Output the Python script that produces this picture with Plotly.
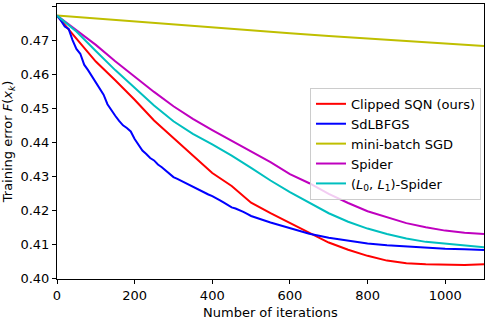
import plotly.graph_objects as go

# iterations and training error values
it_blue = [0, 10, 20, 30, 40, 50, 60, 70, 80, 90, 100, 110, 120, 130, 140, 150, 160, 170, 180, 190,
           200, 210, 220, 230, 240, 250, 260, 270, 280, 290, 300, 310, 320, 330, 340, 350, 360, 370,
           380, 390, 400, 410, 420, 430, 440, 450, 460, 470, 480, 490, 500,
           550, 600, 650, 700, 750, 800, 850, 900, 950, 1000, 1050, 1100]
sdlbfgs = [0.4772, 0.4758, 0.4740, 0.4733, 0.4700, 0.4674, 0.4660, 0.4628, 0.4612, 0.4594, 0.4577,
           0.4556, 0.4540, 0.4512, 0.4494, 0.4478, 0.4463, 0.4450, 0.4442, 0.4432, 0.4410, 0.4392,
           0.4376, 0.4366, 0.4354, 0.4347, 0.4335, 0.4327, 0.4317, 0.4306, 0.4298, 0.4293, 0.4287,
           0.4282, 0.4276, 0.4269, 0.4263, 0.4258, 0.4252, 0.4247, 0.4242, 0.4237, 0.4230, 0.4223,
           0.4215, 0.4209, 0.4206, 0.4202, 0.4196, 0.4190, 0.4184,
           0.4165, 0.4148, 0.4132, 0.4120, 0.4111, 0.4103, 0.4098, 0.4094, 0.4090, 0.4088, 0.4086, 0.4084]

it = [0, 50, 100, 150, 200, 250, 300, 350, 400, 450, 500, 550, 600, 650, 700, 750, 800, 850, 900,
      950, 1000, 1050, 1100]
clipped_sqn = [0.4772, 0.4705, 0.4637, 0.4582, 0.4525, 0.4464, 0.4412, 0.4360, 0.4310, 0.4272,
               0.4223, 0.4192, 0.4163, 0.4135, 0.4106, 0.4085, 0.4067, 0.4053, 0.4045, 0.4042,
               0.4040, 0.4040, 0.4042]
spider_l0l1 = [0.4772, 0.4725, 0.4668, 0.4612, 0.4560, 0.4508, 0.4462, 0.4425, 0.4394, 0.4361,
               0.4325, 0.4288, 0.4254, 0.4222, 0.4192, 0.4167, 0.4147, 0.4131, 0.4118, 0.4108,
               0.4102, 0.4097, 0.4092]
spider = [0.4772, 0.4730, 0.4686, 0.4638, 0.4592, 0.4548, 0.4506, 0.4469, 0.4436, 0.4405,
          0.4375, 0.4342, 0.4307, 0.4280, 0.4249, 0.4222, 0.4198, 0.4180, 0.4163, 0.4151,
          0.4141, 0.4135, 0.4131]

it_sgd = [0, 100, 200, 300, 400, 500, 600, 700, 800, 900, 1000, 1100]
sgd = [0.4772, 0.4763, 0.4754, 0.4745, 0.4737, 0.4728, 0.4720, 0.4712, 0.4705, 0.4697, 0.4690, 0.4683]

xticks = [0, 200, 400, 600, 800, 1000]
yticks = [0.40, 0.41, 0.42, 0.43, 0.44, 0.45, 0.46, 0.47, 0.48]

fig = go.Figure()
fig.add_trace(go.Scatter(x=it, y=clipped_sqn, mode='lines', name='Clipped SQN (ours)',
                         line=dict(color='#ff0000', width=2)))
fig.add_trace(go.Scatter(x=it_blue, y=sdlbfgs, mode='lines', name='SdLBFGS',
                         line=dict(color='#0000ff', width=2)))
fig.add_trace(go.Scatter(x=it_sgd, y=sgd, mode='lines', name='mini-batch SGD',
                         line=dict(color='#bfbf00', width=2)))
fig.add_trace(go.Scatter(x=it, y=spider, mode='lines', name='Spider',
                         line=dict(color='#bf00bf', width=2)))
fig.add_trace(go.Scatter(x=it, y=spider_l0l1, mode='lines',
                         name='(<i>L</i><sub>0</sub>, <i>L</i><sub>1</sub>)-Spider',
                         line=dict(color='#00bfbf', width=2)))

axis_style = dict(showline=True, mirror=True, linecolor='black', linewidth=1,
                  ticks='outside', ticklen=4, tickcolor='black', showgrid=False,
                  zeroline=False, automargin=False, tickfont=dict(size=13, color='black'))

fig.update_layout(
    width=486, height=320,
    margin=dict(l=57, r=2, t=4, b=41),
    paper_bgcolor='white', plot_bgcolor='white',
    font=dict(family='DejaVu Sans', size=13, color='black'),
    xaxis=dict(range=[0, 1100], tickvals=xticks, **axis_style),
    yaxis=dict(range=[0.3999, 0.4806], tickvals=yticks, tickformat='.2f', **axis_style),
    legend=dict(x=0.5925, y=0.695, xanchor='left', yanchor='top',
                bgcolor='rgba(255,255,255,0.8)', bordercolor='#cccccc', borderwidth=1,
                font=dict(size=13), tracegroupgap=0, itemwidth=30),
    showlegend=True,
    annotations=[
        dict(text='Number of iterations', xref='paper', yref='paper', x=0.5, y=-0.122,
             xanchor='center', yanchor='middle', showarrow=False, font=dict(size=13)),
        dict(text='Training error <i>F</i>(<i>x<sub>k</sub></i>)', xref='paper', yref='paper',
             x=-0.113, y=0.5, xanchor='center', yanchor='middle', textangle=-90,
             showarrow=False, font=dict(size=13)),
    ],
)

fig.write_html("out.html", config={'displayModeBar': False},
               post_script="document.body.style.margin='0';document.body.style.overflow='hidden';")
